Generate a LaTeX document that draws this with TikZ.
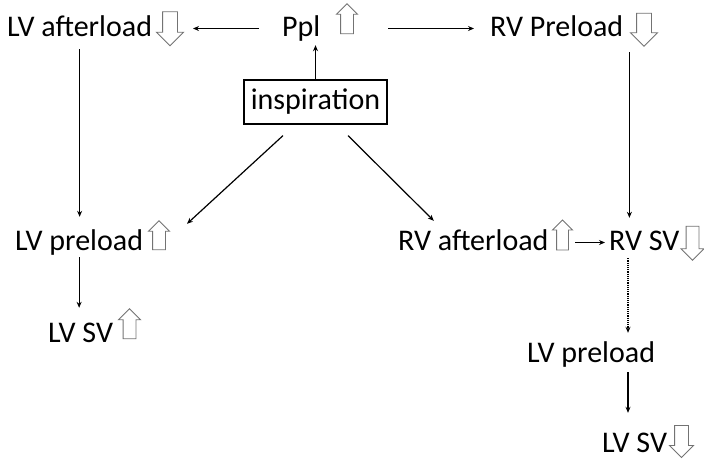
\documentclass[tikz,border=0pt]{standalone}
\usepackage{fontspec}
\setmainfont{Carlito}
\usetikzlibrary{shapes.arrows,arrows.meta}
\begin{document}
\begin{tikzpicture}[x=1pt,y=-1pt,
  lbl/.style={anchor=base west,inner sep=0pt,text height=21pt,text depth=6pt,font=\fontsize{30}{34}\selectfont},
  harrow/.style={single arrow,draw=black!55,line width=0.9pt,inner xsep=0pt,single arrow head indent=0pt,anchor=center},
  uparr/.style={harrow,rotate=90,inner ysep=6pt,single arrow head extend=4pt},
  dnarr/.style={harrow,rotate=-90,inner ysep=7pt,single arrow head extend=6pt},
  conn/.style={line width=1.2pt,-{Stealth[length=6pt,width=5pt]}},
  dotconn/.style={conn,densely dotted}]
\useasboundingbox (0,0) rectangle (704,459);
% top row
\node[lbl] (lva) at (7,36) {LV afterload};
\node[dnarr,minimum height=34pt] (lvaA) at (170,25) {};
\node[lbl] (ppl) at (282,36) {Ppl};
\node[uparr,minimum height=30pt] (pplA) at (347,22) {};
\node[lbl] (rvp) at (490,36) {RV Preload};
\node[dnarr,minimum height=33pt] (rvpA) at (644,26) {};
% inspiration
\node[draw,line width=1.2pt,minimum width=143pt,minimum height=44pt,inner sep=0pt,font=\fontsize{30}{34}\selectfont] (insp) at (315.5,102) {inspiration};
% middle row
\node[lbl] (lvp) at (15,250) {LV preload};
\node[uparr,minimum height=29pt] (lvpA) at (159,238.5) {};
\node[lbl] (rva) at (398,250) {RV afterload};
\node[uparr,minimum height=30pt,inner ysep=5.5pt] (rvaA) at (562.5,238) {};
\node[lbl] (rvsv) at (609,250) {RV SV};
\node[dnarr,minimum height=34pt,inner ysep=6pt,single arrow head extend=5pt] (rvsvA) at (692.5,240) {};
% lower
\node[lbl] (lvsv) at (48,342) {LV SV};
\node[uparr,minimum height=30pt,single arrow head extend=4.5pt] (lvsvA) at (129.5,327) {};
\node[lbl] (lvp2) at (527,362) {LV preload};
\node[lbl,text depth=0pt] (lvsv2) at (602,452) {LV SV};
\node[dnarr,minimum height=32pt,inner ysep=6.5pt,single arrow head extend=5pt] (lvsv2A) at (681.5,438) {};
% connectors
\draw[conn] ([xshift=-23pt]ppl.west) -- ([xshift=23pt]lvaA.center |- ppl.west);
\draw[conn] ([xshift=41pt]pplA.center |- ppl.east) -- ([xshift=-16pt]rvp.west);
\draw[conn,shorten >=3pt] (insp.north) -- (insp.north |- ppl.south);
\draw[conn,shorten <=7pt,shorten >=12pt] (lva.south) -- (lva.south |- lvp.north);
\draw[conn,shorten <=1pt,shorten >=13pt] (lvp.south) -- (lvp.south |- lvsv.north);
\draw[conn] ([xshift=-32.5pt,yshift=-11pt]insp.south) -- ([xshift=28pt,yshift=5pt]lvpA.center |- lvp.north);
\draw[conn] ([xshift=32.5pt,yshift=-11pt]insp.south) -- ([xshift=-39.5pt,yshift=8pt]rva.north);
\draw[conn] ([xshift=12.5pt]rvaA.center |- rvsv.west) -- ([xshift=-4pt]rvsv.west);
\draw[conn,shorten <=10pt,shorten >=11pt] ([xshift=6pt]rvp.south east) -- ([xshift=6pt]rvp.south east |- rvsv.north);
\draw[dotconn,shorten <=2pt,shorten >=8pt] ([xshift=19pt]rvsv.south west) -- ([xshift=19pt]rvsv.south west |- lvp2.north);
\draw[conn,shorten <=4pt,shorten >=18pt] ([xshift=19pt]rvsv.south west |- lvp2.south) -- ([xshift=19pt]rvsv.south west |- lvsv2.north);
\end{tikzpicture}
\end{document}
